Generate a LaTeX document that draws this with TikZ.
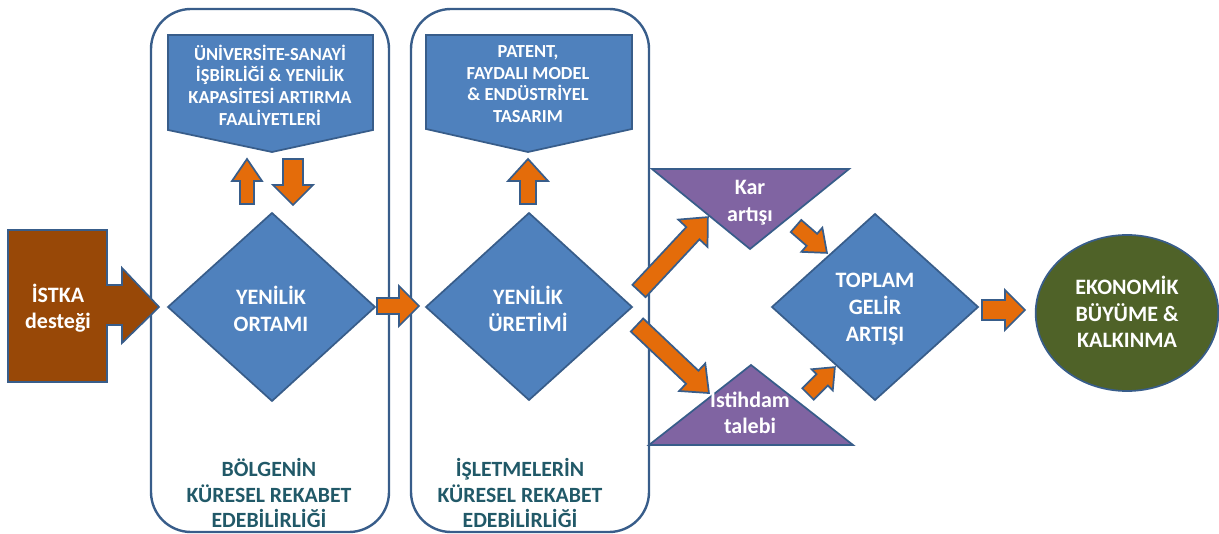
\documentclass[tikz,border=0pt]{standalone}
\usepackage{fontspec}
\setmainfont{Carlito}
\definecolor{dblue}{HTML}{4F81BD}
\definecolor{bord}{HTML}{385D8A}
\definecolor{purp}{HTML}{8064A2}
\definecolor{orng}{HTML}{E46C0A}
\definecolor{brwn}{HTML}{984807}
\definecolor{olivegr}{HTML}{4F6228}
\definecolor{txteal}{HTML}{215968}
\tikzset{
  shapesty/.style={draw=bord,line width=1.3pt,line join=miter},
  arrowsty/.style={shapesty,fill=orng},
  panelsty/.style={draw=bord,line width=1.8pt,rounded corners=30pt},
  wt/.style={text=white,font=\bfseries\fontsize{16.5}{20}\selectfont,align=center,inner sep=0pt},
  topt/.style={text=white,font=\bfseries\fontsize{13.8}{16.3}\selectfont,align=center,inner sep=0pt},
  bott/.style={text=txteal,font=\bfseries\fontsize{16.3}{19}\selectfont,align=center,inner sep=0pt}
}
\newcommand\blockarrow[7]{%
  \begin{scope}[shift={(#1,#2)},rotate=#3]
    \draw[arrowsty] (0,-#5) -- ({#4-#7},-#5) -- ({#4-#7},-#6) -- (#4,0) -- ({#4-#7},#6) -- ({#4-#7},#5) -- (0,#5) -- cycle;
  \end{scope}}
\begin{document}
\begin{tikzpicture}[x=0.75pt,y=-0.75pt]
\useasboundingbox (0,0) rectangle (1219,534);
% panels
\draw[panelsty] (151,9) rectangle (389,532);
\draw[panelsty] (411,9) rectangle (649,532);
% left input arrow
\draw[shapesty,fill=brwn] (8,230) -- (107,230) -- (107,285) -- (122,285) -- (122,268) -- (159,307) -- (122,343) -- (122,325) -- (107,325) -- (107,382) -- (8,382) -- cycle;
% top boxes
\draw[shapesty,fill=dblue] (168,35) -- (373,35) -- (373,130) -- (272,152) -- (168,130) -- cycle;
\draw[shapesty,fill=dblue] (426,35) -- (632,35) -- (632,129) -- (528,152) -- (426,129) -- cycle;
% diamonds
\draw[shapesty,fill=dblue] (168,307) -- (272,213) -- (375,307) -- (272,401) -- cycle;
\draw[shapesty,fill=dblue] (426,307) -- (529,213) -- (632,307) -- (529,400) -- cycle;
\draw[shapesty,fill=dblue] (772,307) -- (875,214) -- (978,307) -- (875,400) -- cycle;
% triangles
\draw[shapesty,fill=purp] (652,169) -- (849,169) -- (750,249) -- cycle;
\draw[shapesty,fill=purp] (649,445) -- (853,445) -- (751,365) -- cycle;
% ellipse
\draw[shapesty,fill=olivegr] (1127,313) ellipse [x radius=68.5pt, y radius=58.5pt];
% block arrows
\blockarrow{247}{204}{90}{45}{7}{15}{22}
\blockarrow{293}{159}{-90}{46}{10}{20}{20}
\blockarrow{528}{204}{90}{45}{8}{20}{22}
\blockarrow{377}{306}{0}{42}{8}{20}{20}
\blockarrow{639}{291}{47}{101}{9}{20}{22}
\blockarrow{637}{325}{-43.4}{99}{9}{19}{23}
\blockarrow{796}{226}{-41}{41}{8}{16}{20}
\blockarrow{808}{394}{45}{38}{8}{15}{18}
\blockarrow{982}{310}{0}{43}{10}{20}{20}
% texts
\node[wt] (istka) at (58,308) {İSTKA\\desteği};
\node[topt] (usi) at (270,85) {ÜNİVERSİTE-SANAYİ\\İŞBİRLİĞİ \& YENİLİK\\KAPASİTESİ ARTIRMA\\FAALİYETLERİ};
\node[topt] (pat) at (528,84) {PATENT,\\FAYDALI MODEL\\\& ENDÜSTRİYEL\\TASARIM};
\node[wt] (yo) at (271,309) {YENİLİK\\ORTAMI};
\node[wt] (yu) at (528,309) {YENİLİK\\ÜRETİMİ};
\node[wt] (kar) at (750,203) {Kar\\artışı};
\node[wt] (ist) at (750,413) {Istihdam\\talebi};
\node[wt] (tga) at (875,309) {TOPLAM\\GELİR\\ARTIŞI};
\node[wt] (eko) at (1127,312) {EKONOMİK\\BÜYÜME \&\\KALKINMA};
\node[bott] (bol) at (269,493) {BÖLGENİN\\KÜRESEL REKABET\\EDEBİLİRLİĞİ};
\node[bott] (isl) at (520,493) {İŞLETMELERİN\\KÜRESEL REKABET\\EDEBİLİRLİĞİ};
\end{tikzpicture}
\end{document}
